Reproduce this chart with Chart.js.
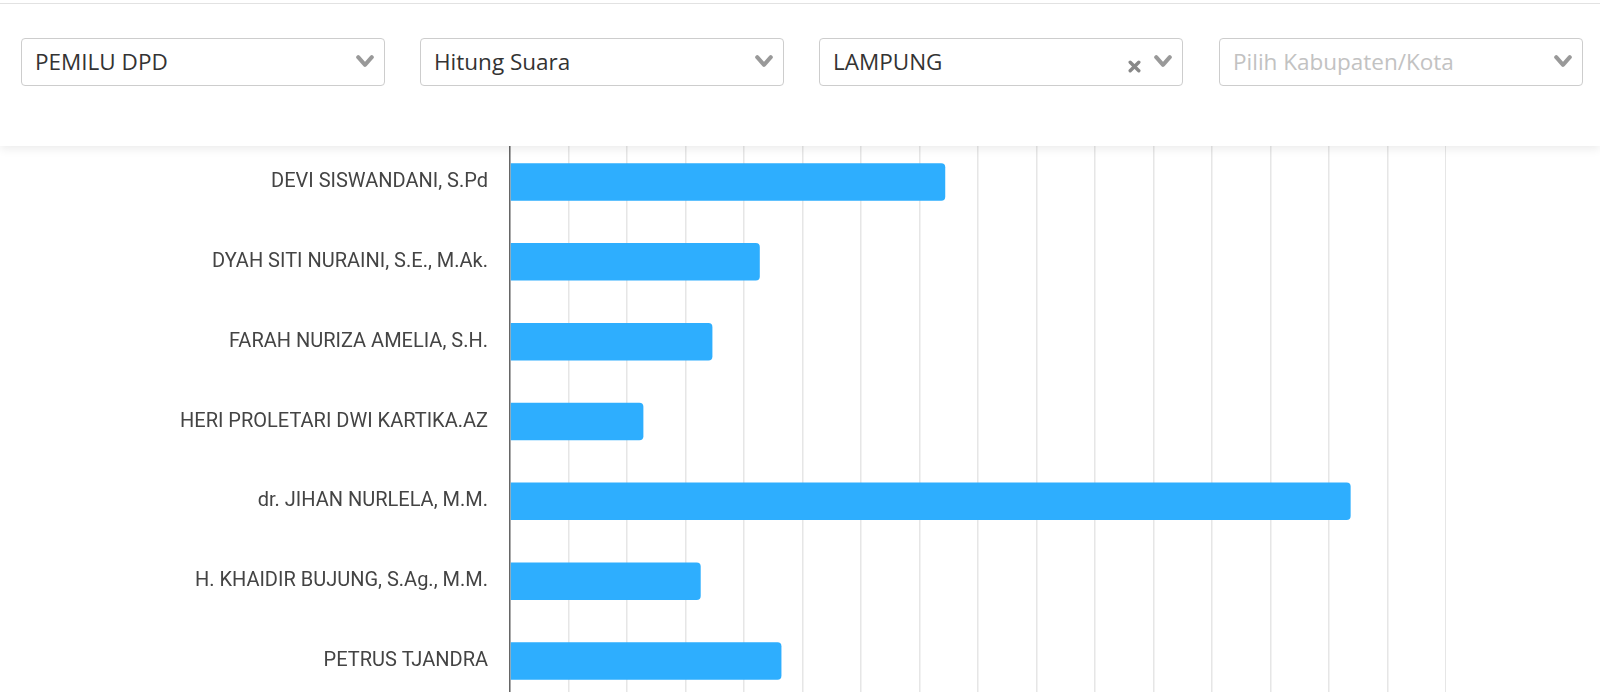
<!DOCTYPE html>
<html>
<head>
<meta charset="utf-8">
<script src="https://cdn.jsdelivr.net/npm/chart.js@4.4.1/dist/chart.umd.min.js"></script>
<style>
  html, body { margin:0; padding:0; width:1600px; height:692px; overflow:hidden; background:#fff; }
  #header { position:absolute; left:0; top:0; width:1600px; height:146px; background:#fff;
            box-shadow:0 3px 9px rgba(0,0,0,0.08); z-index:2; }
  #topline { position:absolute; left:0; top:3px; width:1600px; height:1px; background:#e2e2e2; }
  .sel { position:absolute; top:38px; height:48px; width:364px; box-sizing:border-box;
         border:1px solid #cdcdcd; border-radius:4px; background:#fff;
         font-family:"Open Sans", sans-serif; font-size:22.5px; color:#333;
         line-height:46px; padding-left:13px; white-space:nowrap; }
  .sel.ph { color:#c2c2c2; }
  .chev { position:absolute; right:10px; top:16px; width:18px; height:13px; }
  .clr { position:absolute; right:41px; top:21px; width:13px; height:13px; }
  #chartBox { position:absolute; left:0; top:108px; width:1446px; height:627px; z-index:1; }
</style>
</head>
<body>
<div id="header">
  <div id="topline"></div>
  <div class="sel" style="left:21px;">PEMILU DPD
    <svg class="chev" viewBox="0 0 18 13"><polyline points="2.2,2.2 9,9.8 15.8,2.2" fill="none" stroke="#999" stroke-width="4" stroke-linecap="round" stroke-linejoin="round"/></svg>
  </div>
  <div class="sel" style="left:420px;">Hitung Suara
    <svg class="chev" viewBox="0 0 18 13"><polyline points="2.2,2.2 9,9.8 15.8,2.2" fill="none" stroke="#999" stroke-width="4" stroke-linecap="round" stroke-linejoin="round"/></svg>
  </div>
  <div class="sel" style="left:819px;">LAMPUNG
    <svg class="clr" viewBox="0 0 13 13"><path d="M2.2,2.2 L10.8,10.8 M10.8,2.2 L2.2,10.8" fill="none" stroke="#888" stroke-width="3.4" stroke-linecap="round"/></svg>
    <svg class="chev" viewBox="0 0 18 13"><polyline points="2.2,2.2 9,9.8 15.8,2.2" fill="none" stroke="#999" stroke-width="4" stroke-linecap="round" stroke-linejoin="round"/></svg>
  </div>
  <div class="sel ph" style="left:1219px;">Pilih Kabupaten/Kota
    <svg class="chev" viewBox="0 0 18 13"><polyline points="2.2,2.2 9,9.8 15.8,2.2" fill="none" stroke="#999" stroke-width="4" stroke-linecap="round" stroke-linejoin="round"/></svg>
  </div>
</div>
<div id="chartBox"><canvas id="c"></canvas></div>
<script>
const candidates = [
  "DEVI SISWANDANI, S.Pd",
  "DYAH SITI NURAINI, S.E., M.Ak.",
  "FARAH NURIZA AMELIA, S.H.",
  "HERI PROLETARI DWI KARTIKA.AZ",
  "dr. JIHAN NURLELA, M.M.",
  "H. KHAIDIR BUJUNG, S.Ag., M.M.",
  "PETRUS TJANDRA"
];
const votes = [148800, 85400, 69200, 45600, 287400, 65200, 92800];
const axisMin = 0;
const axisMax = 320000;
const axisStep = 20000;

new Chart(document.getElementById('c'), {
  type: 'bar',
  data: {
    labels: candidates,
    datasets: [{
      label: 'Suara',
      data: votes,
      backgroundColor: '#2eaefe',
      borderColor: '#2eaefe',
      borderWidth: 0,
      borderRadius: 4,
      borderSkipped: 'start',
      categoryPercentage: 1.0,
      barPercentage: 0.47
    }]
  },
  options: {
    indexAxis: 'y',
    responsive: true,
    maintainAspectRatio: false,
    animation: false,
    layout: { padding: 0 },
    plugins: { legend: { display: false }, tooltip: { enabled: false } },
    scales: {
      x: {
        min: axisMin, max: axisMax,
        ticks: { display: false, stepSize: axisStep },
        grid: { color: '#e6e6e6', lineWidth: 1.5, drawTicks: false },
        border: { display: false }
      },
      y: {
        ticks: { font: { family: 'Roboto', size: 20 }, color: '#444', padding: 22 },
        grid: { display: false, drawTicks: false },
        border: { display: true, color: '#666', width: 1.5 },
        afterFit: (s) => { s.width = 510; }
      }
    }
  }
});
</script>
</body>
</html>
